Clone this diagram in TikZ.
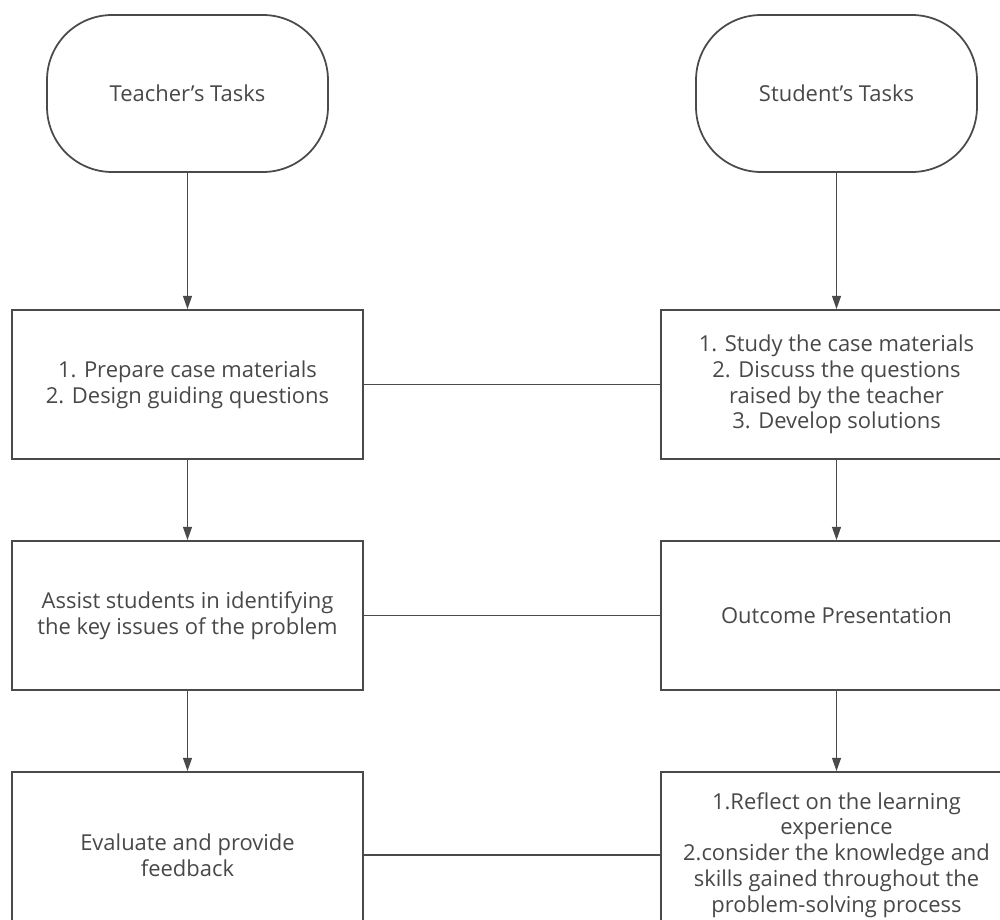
\documentclass[tikz,border=0pt]{standalone}
\usepackage{fontspec}
\setmainfont{Open Sans}
\usetikzlibrary{arrows.meta}
\definecolor{ln}{HTML}{4A4A4A}
\definecolor{tx}{HTML}{484848}
\tikzset{
  terminal/.style={draw=ln, line width=1pt, rounded corners=1.3cm, minimum width=5.62cm, minimum height=3.14cm, text=tx, align=center, font=\fontsize{12.5}{14.7}\selectfont},
  taskbox/.style={draw=ln, line width=1pt, minimum width=7.02cm, minimum height=2.98cm, text=tx, align=center, font=\fontsize{12.5}{14.7}\selectfont},
  flow/.style={draw=ln, line width=0.9pt, -{Triangle[length=7.5pt, width=5pt]}},
  link/.style={draw=ln, line width=0.9pt}
}
\begin{document}
\begin{tikzpicture}[x=0.02cm, y=-0.02cm]
\useasboundingbox (0,0) rectangle (1000,919);
\clip (0,0) rectangle (1000,919);
\node[terminal] (tt) at (187.5,93.5) {Teacher's Tasks};
\node[terminal] (st) at (836.5,93.5) {Student's Tasks};
\node[taskbox] (t1) at (187.5,384.5) {1. Prepare case materials\\2. Design guiding questions};
\node[taskbox] (s1) at (836.5,384.5) {1. Study the case materials\\2. Discuss the questions\\raised by the teacher\\3. Develop solutions};
\node[taskbox] (t2) at (187.5,615.5) {Assist students in identifying\\the key issues of the problem};
\node[taskbox] (s2) at (836.5,615.5) {Outcome Presentation};
\node[taskbox, minimum height=3.32cm] (t3) at (187.5,855) {Evaluate and provide\\feedback};
\node[taskbox, minimum height=3.32cm] (s3) at (836.5,855) {1.Reflect on the learning\\experience\\2.consider the knowledge and\\skills gained throughout the\\problem-solving process};
\draw[flow] (tt) -- (t1);
\draw[flow] (t1) -- (t2);
\draw[flow] (t2) -- (t3);
\draw[flow] (st) -- (s1);
\draw[flow] (s1) -- (s2);
\draw[flow] (s2) -- (s3);
\draw[link] (t1) -- (s1);
\draw[link] (t2) -- (s2);
\draw[link] (t3) -- (s3);
\end{tikzpicture}
\end{document}
